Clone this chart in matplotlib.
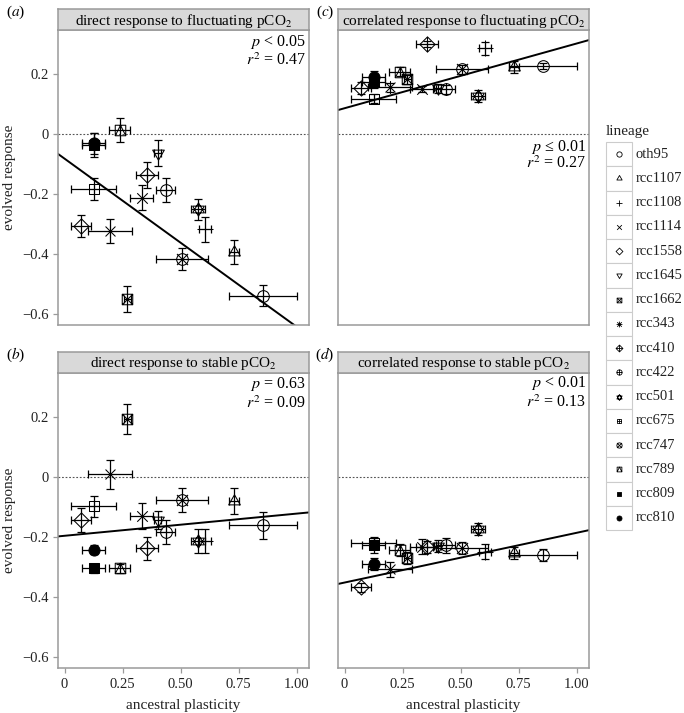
import numpy as np
import matplotlib
matplotlib.use("Agg")
import matplotlib.pyplot as plt
from matplotlib.path import Path
from matplotlib.patches import Rectangle

plt.rcParams["font.family"] = ["Liberation Serif", "DejaVu Serif"]
plt.rcParams["mathtext.fontset"] = "stix"
plt.rcParams["axes.unicode_minus"] = True

# --------------------------------------------------------------------------- #
# data
lineages = ["oth95", "rcc1107", "rcc1108", "rcc1114", "rcc1558", "rcc1645", "rcc1662",
            "rcc343", "rcc410", "rcc422", "rcc501", "rcc675", "rcc747", "rcc789",
            "rcc809", "rcc810"]
anc_plast = [0.856, 0.730, 0.605, 0.332, 0.071, 0.402, 0.271, 0.195, 0.355, 0.435,
             0.573, 0.125, 0.507, 0.237, 0.125, 0.125]
anc_plast_err = [0.147, 0.020, 0.025, 0.048, 0.043, 0.015, 0.015, 0.095, 0.047, 0.043,
                 0.030, 0.095, 0.113, 0.047, 0.050, 0.050]

direct_fluct = [-0.539, -0.394, -0.318, -0.212, -0.306, -0.064, -0.550, -0.323, -0.137, -0.187,
                -0.251, -0.183, -0.418, 0.013, -0.037, -0.030]
direct_fluct_err = [0.036, 0.039, 0.042, 0.042, 0.037, 0.044, 0.044, 0.039, 0.043, 0.039,
                    0.035, 0.036, 0.037, 0.039, 0.040, 0.035]
direct_stable = [-0.161, -0.080, -0.213, -0.130, -0.143, -0.144, 0.194, 0.009, -0.238, -0.183,
                 -0.213, -0.097, -0.078, -0.304, -0.304, -0.243]
direct_stable_err = [0.046, 0.042, 0.040, 0.045, 0.039, 0.030, 0.050, 0.048, 0.038, 0.040,
                     0.040, 0.035, 0.040, 0.015, 0.015, 0.015]
corr_fluct = [0.228, 0.224, 0.286, 0.149, 0.152, 0.152, 0.182, 0.156, 0.299, 0.149,
              0.128, 0.117, 0.216, 0.208, 0.175, 0.190]
corr_fluct_err = [0.010, 0.020, 0.022, 0.010, 0.020, 0.015, 0.015, 0.015, 0.010, 0.015,
                  0.020, 0.015, 0.015, 0.015, 0.020, 0.020]
corr_stable = [-0.261, -0.254, -0.250, -0.232, -0.367, -0.230, -0.269, -0.308, -0.232, -0.228,
               -0.174, -0.219, -0.238, -0.244, -0.228, -0.291]
corr_stable_err = [0.020, 0.020, 0.025, 0.025, 0.015, 0.020, 0.020, 0.025, 0.020, 0.025,
                   0.020, 0.020, 0.020, 0.020, 0.025, 0.020]

# regression lines (intercept, slope) and the printed stats
fit_intercept = [-0.082, -0.196, 0.086, -0.352]
fit_slope = [-0.561, 0.074, 0.216, 0.166]
p_text = ["$p$ < 0.05", "$p$ = 0.63", "$p$ \u2264 0.01", "$p$ < 0.01"]
r2_text = ["$r^2$ = 0.47", "$r^2$ = 0.09", "$r^2$ = 0.27", "$r^2$ = 0.13"]
strip_titles = ["direct response to fluctuating pCO$_2$", "direct response to stable pCO$_2$",
                "correlated response to fluctuating pCO$_2$", "correlated response to stable pCO$_2$"]
panel_tags = ["($a$)", "($b$)", "($c$)", "($d$)"]

# --------------------------------------------------------------------------- #
# R-style point shapes (pch 1..16) as matplotlib paths
def seg(a, b):
    return Path([a, b], [Path.MOVETO, Path.LINETO])


def poly(pts):
    return Path(list(pts) + [pts[0]], [Path.MOVETO] + [Path.LINETO] * (len(pts) - 1) + [Path.CLOSEPOLY])


def plus(h):
    return Path.make_compound_path(seg((-h, 0), (h, 0)), seg((0, -h), (0, h)))


def cross(h):
    return Path.make_compound_path(seg((-h, -h), (h, h)), seg((-h, h), (h, -h)))


circ = Path.unit_circle()
sq = poly([(-.9, -.9), (.9, -.9), (.9, .9), (-.9, .9)])
dia = poly([(0, -1.3), (1.3, 0), (0, 1.3), (-1.3, 0)])
tri_up = poly([(0, 1.15), (1.0, -0.58), (-1.0, -0.58)])
tri_dn = poly([(0, -1.15), (1.0, 0.58), (-1.0, 0.58)])
sq_tri = Path([(-.9, -.9), (0, .9), (.9, -.9)], [Path.MOVETO, Path.LINETO, Path.LINETO])

cp = Path.make_compound_path
shapes = [
    (circ, False), (tri_up, False), (plus(1.3), False), (cross(0.9), False),
    (dia, False), (tri_dn, False), (cp(sq, cross(0.9)), False), (cp(plus(1.1), cross(0.85)), False),
    (cp(dia, plus(1.3)), False), (cp(circ, plus(1.0)), False), (cp(tri_up, tri_dn), False),
    (cp(sq, plus(0.9)), False), (cp(circ, cross(0.95)), False), (cp(sq, sq_tri), False),
    (sq, True), (Path.circle((0, 0), 0.95), True),
]


def put_marker(ax, x, y, shape, r_pt, lw, **kw):
    path, filled = shape
    m = np.abs(path.vertices).max()
    ax.plot(x, y, ls="none", marker=path, ms=2 * m * r_pt, mec="black",
            mfc="black" if filled else "none", mew=lw, **kw)


# --------------------------------------------------------------------------- #
W, H = 684, 713


def rect(l, t, r, b):
    return [l / W, 1 - b / H, (r - l) / W, (b - t) / H]


fig = plt.figure(figsize=(W / 100, H / 100), dpi=100)
frames = [(58, 30, 309, 325), (58, 373, 309, 668), (338, 30, 589, 325), (338, 373, 589, 668)]
series = [(direct_fluct, direct_fluct_err), (direct_stable, direct_stable_err),
          (corr_fluct, corr_fluct_err), (corr_stable, corr_stable_err)]
stat_y = [(0.308, 0.243), (0.310, 0.245), (-0.042, -0.098), (0.312, 0.248)]
GRAY = "#9a9a9a"

for i, ((l, t, r, b), (yv, ye)) in enumerate(zip(frames, series)):
    ax = fig.add_axes(rect(l, t, r, b))
    ax.set_xlim(-0.028, 1.053)
    ax.set_ylim(-0.637, 0.347)
    for s in ax.spines.values():
        s.set_color(GRAY)
        s.set_linewidth(1.1)
    ax.tick_params(colors=GRAY, length=3.5, width=0.9, labelcolor="#222222", labelsize=10.5)
    ax.set_yticks([-0.6, -0.4, -0.2, 0, 0.2])
    ax.set_xticks([0, 0.25, 0.5, 0.75, 1.0])
    if i < 2:
        ax.set_yticklabels(["\u22120.6", "\u22120.4", "\u22120.2", "0", "0.2"])
        ax.set_ylabel("evolved response", fontsize=11, color="#222222", labelpad=4)
    else:
        ax.tick_params(axis="y", left=False, labelleft=False)
    if i % 2 == 1:
        ax.set_xticklabels(["0", "0.25", "0.50", "0.75", "1.00"])
        ax.set_xlabel("ancestral plasticity", fontsize=11, color="#222222", labelpad=6)
    else:
        ax.tick_params(axis="x", bottom=False, labelbottom=False)

    ax.axhline(0, color="#555555", lw=0.8, ls=(0, (1.6, 1.6)), zorder=1)
    ax.axline((0, fit_intercept[i]), slope=fit_slope[i], color="black", lw=1.4, zorder=2)
    ax.errorbar(anc_plast, yv, xerr=anc_plast_err, yerr=ye, fmt="none", ecolor="black",
                elinewidth=0.9, capsize=2.6, capthick=0.9, zorder=2.5)
    for k in range(len(lineages)):
        put_marker(ax, anc_plast[k], yv[k], shapes[k], 4.2, 0.75, zorder=3)

    ax.text(1.04, stat_y[i][0], p_text[i], ha="right", va="center", fontsize=11.5)
    ax.text(1.04, stat_y[i][1], r2_text[i], ha="right", va="center", fontsize=11.5)

    # facet strip
    sax = fig.add_axes(rect(l, t - 21, r, t))
    sax.set_facecolor("#d9d9d9")
    sax.set_xticks([])
    sax.set_yticks([])
    for s in sax.spines.values():
        s.set_color(GRAY)
        s.set_linewidth(1.1)
    sax.text(0.5, 0.45, strip_titles[i], ha="center", va="center", fontsize=11,
             transform=sax.transAxes)
    fig.text((l - 42 if i < 2 else l - 13) / W, 1 - (t - 18) / H, panel_tags[i],
             ha="center", va="center", fontsize=11)

# --------------------------------------------------------------------------- #
# legend
lax = fig.add_axes(rect(600, 142, 684, 530))
lax.set_xlim(600, 684)
lax.set_ylim(530, 142)
lax.axis("off")
row_h = (530 - 142) / len(lineages)
for k, name in enumerate(lineages):
    y0 = 142 + k * row_h
    lax.add_patch(Rectangle((606, y0), 26, row_h, facecolor="white", edgecolor="#cccccc",
                            lw=0.8, clip_on=False))
    put_marker(lax, 619, y0 + row_h / 2, shapes[k], 1.9, 0.6, clip_on=False, zorder=3)
    lax.text(636, y0 + row_h / 2, name, ha="left", va="center", fontsize=10.5, color="#222222")
fig.text(606 / W, 1 - 132 / H, "lineage", ha="left", va="center", fontsize=11, color="#222222")

fig.savefig("out.png", dpi=100)
